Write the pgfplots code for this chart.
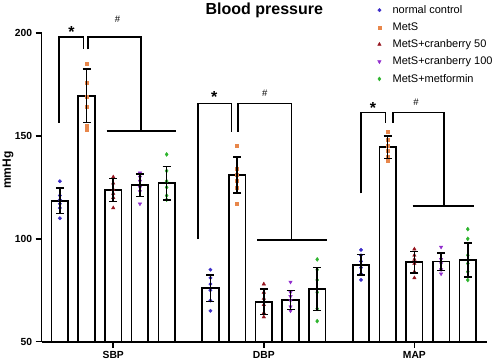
\documentclass[border=0pt]{standalone}
\usepackage{fontspec}
\setmainfont{Liberation Sans}
\usepackage{pgfplots}
\usepackage{pgfplotstable}
\pgfplotsset{compat=1.18}
\definecolor{cNC}{RGB}{60,45,200}
\definecolor{cMS}{RGB}{232,135,75}
\definecolor{cC50}{RGB}{150,20,30}
\definecolor{cC100}{RGB}{145,45,205}
\definecolor{cMF}{RGB}{45,180,45}

% bar means and SD
\pgfplotstableread{
x mean sd
-2 118.5 6.2
3.64 76.0 6.5
9.28 87.3 5.0
}\barNC
\pgfplotstableread{
x mean sd
-1 169.5 13.0
4.64 131.0 8.7
10.28 144.5 5.5
}\barMS
\pgfplotstableread{
x mean sd
0 123.7 5.5
5.64 69.4 6.2
11.28 88.6 5.3
}\barCa
\pgfplotstableread{
x mean sd
1 126.1 5.5
6.64 70.3 4.7
12.28 88.9 4.3
}\barCb
\pgfplotstableread{
x mean sd
2 127.0 8.2
7.64 75.6 10.5
13.28 89.7 8.3
}\barMF

% individual points
\pgfplotstableread{
x y
-2 128
-2 121
-2 119
-2 117
-2 115
-2 110
3.64 85
3.64 81
3.64 78
3.64 75
3.64 70
3.64 65
9.28 94.6
9.28 92
9.28 89
9.28 86
9.28 83
9.28 80
}\ptNC
\pgfplotstableread{
x y
-1 185
-1 176
-1 169
-1 164
-1 155
-1 153
4.64 145
4.64 134
4.64 131
4.64 128
4.64 125
4.64 117
10.28 152
10.28 148
10.28 145
10.28 143
10.28 140
10.28 138
}\ptMS
\pgfplotstableread{
x y
0 130
0 127
0 124
0 122
0 120
0 115
5.64 78
5.64 74
5.64 71
5.64 68
5.64 64
5.64 62
11.28 95
11.28 92
11.28 90
11.28 88
11.28 84
11.28 81
}\ptCa
\pgfplotstableread{
x y
1 132
1 130
1 128
1 125
1 123
1 117
6.64 79
6.64 74
6.64 72
6.64 70
6.64 67
6.64 65
12.28 96
12.28 93
12.28 90
12.28 88
12.28 85
12.28 83
}\ptCb
\pgfplotstableread{
x y
2 141
2 133
2 128
2 125
2 121
2 119
7.64 90
7.64 85
7.64 80
7.64 74
7.64 66
7.64 60
13.28 104.7
13.28 100
13.28 92
13.28 88
13.28 84
13.28 80
}\ptMF

\pgfplotsset{
  barstyle/.style={ybar, bar width=0.62, bar shift=0pt, fill=white, draw=black, line width=1.6pt, forget plot},
  errstyle/.style={draw=none, mark=none, forget plot,
    error bars/.cd, y dir=both, y explicit,
    error bar style={draw=black, line width=1.5pt},
    error mark options={draw=black, rotate=90, mark size=4pt, line width=1.5pt}},
}

\begin{document}
\begin{tikzpicture}
\useasboundingbox (0,0) rectangle (495pt,360pt);
\begin{axis}[
  at={(41.7pt,18.3pt)}, anchor=south west,
  scale only axis, width=445.3pt, height=308.7pt,
  xmin=-2.68, xmax=14.0, ymin=50, ymax=200,
  axis lines=left, axis line style={-, line width=1.6pt},
  clip mode=individual,
  xtick={0,5.64,11.28}, xticklabels={SBP,DBP,MAP},
  ytick={50,100,150,200},
  tick align=outside,
  major tick length=6pt,
  tick style={line width=1.5pt, black},
  minor tick num=0,
  /pgf/number format/assume math mode=true,
  ticklabel style={font=\fontsize{10.3}{12}\selectfont\bfseries},
  xticklabel style={yshift=0pt},
  ylabel={mmHg},
  ylabel style={font=\fontsize{12}{14}\selectfont\bfseries, at={(axis description cs:-0.0757,0.556)}, anchor=center},
  legend style={at={(axis description cs:0.744,1.103)}, anchor=north west, draw=none, fill=none,
    font=\fontsize{11}{13}\selectfont, row sep=3.8pt},
  legend cell align=left,
  legend image code/.code={\path (0pt,0pt) (14pt,0pt); \draw[#1] plot coordinates {(3pt,0pt)};},
]
% bars
\addplot[barstyle] table[x=x,y=mean]{\barNC};
\addplot[barstyle] table[x=x,y=mean]{\barMS};
\addplot[barstyle] table[x=x,y=mean]{\barCa};
\addplot[barstyle] table[x=x,y=mean]{\barCb};
\addplot[barstyle] table[x=x,y=mean]{\barMF};
% points
\addplot[only marks, mark=*, mark size=1.7pt, color=cNC] table[x=x,y=y]{\ptNC};
\addlegendentry{normal control}
\addplot[only marks, mark=square*, mark size=1.5pt, color=cMS] table[x=x,y=y]{\ptMS};
\addlegendentry{MetS}
\addplot[only marks, mark=triangle*, mark size=2pt, color=cC50] table[x=x,y=y]{\ptCa};
\addlegendentry{MetS+cranberry 50}
\addplot[only marks, mark=triangle*, mark options={rotate=180}, mark size=2pt, color=cC100] table[x=x,y=y]{\ptCb};
\addlegendentry{MetS+cranberry 100}
\addplot[only marks, mark=diamond*, mark size=2pt, color=cMF] table[x=x,y=y]{\ptMF};
\addlegendentry{MetS+metformin}
% error bars
\addplot[errstyle] table[x=x,y=mean,y error=sd]{\barNC};
\addplot[errstyle] table[x=x,y=mean,y error=sd]{\barMS};
\addplot[errstyle] table[x=x,y=mean,y error=sd]{\barCa};
\addplot[errstyle] table[x=x,y=mean,y error=sd]{\barCb};
\addplot[errstyle] table[x=x,y=mean,y error=sd]{\barMF};
% significance brackets
\begin{scope}[line width=1.6pt, black]
\draw (axis cs:-2.03,156.4) -- (axis cs:-2.03,198.2) -- (axis cs:-1.12,198.2) -- (axis cs:-1.12,192.1);
\draw (axis cs:-0.94,192.1) -- (axis cs:-0.94,198.2) -- (axis cs:1.03,198.2) -- (axis cs:1.03,152.4);
\draw (axis cs:-0.25,152.4) -- (axis cs:2.34,152.4);
\draw (axis cs:3.18,99.8) -- (axis cs:3.18,165.8) -- (axis cs:4.43,165.8) -- (axis cs:4.43,152.0);
\draw (axis cs:4.68,152.0) -- (axis cs:4.68,165.8) -- (axis cs:6.68,165.8) -- (axis cs:6.68,99.4);
\draw (axis cs:5.39,99.4) -- (axis cs:7.99,99.4);
\draw (axis cs:9.27,122.1) -- (axis cs:9.27,161.3) -- (axis cs:10.20,161.3) -- (axis cs:10.20,156.4);
\draw (axis cs:10.49,156.4) -- (axis cs:10.49,161.3) -- (axis cs:12.39,161.3) -- (axis cs:12.39,116.0);
\draw (axis cs:11.21,116.0) -- (axis cs:13.52,116.0);
\end{scope}
\begin{scope}[font=\fontsize{16}{18}\selectfont\bfseries, inner sep=0pt]
\node[anchor=base] at (axis cs:-1.56,197.8) {*};
\node[anchor=base] at (axis cs:3.78,166.1) {*};
\node[anchor=base] at (axis cs:9.73,160.7) {*};
\end{scope}
\begin{scope}[font=\fontsize{9.5}{11}\selectfont]
\node at (axis cs:0.16,206.8) {\#};
\node at (axis cs:5.68,170.7) {\#};
\node at (axis cs:11.34,166.5) {\#};
\end{scope}
\node[font=\fontsize{16}{18}\selectfont\bfseries, inner sep=0pt] at (axis description cs:0.5,1.0745) {Blood pressure};
\end{axis}
\end{tikzpicture}
\end{document}
